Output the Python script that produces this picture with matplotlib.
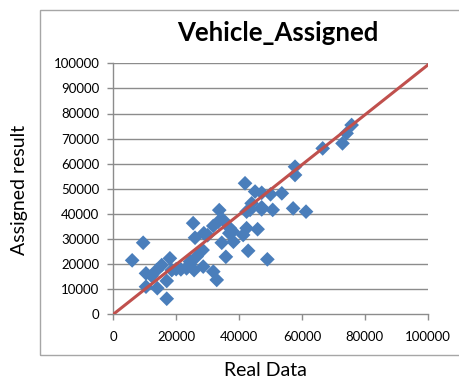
"""Scatter of assigned vehicles against real data, with trend line."""

import numpy as np
import matplotlib.pyplot as plt
from matplotlib.patches import Rectangle

plt.rcParams['font.family'] = ['Lato', 'DejaVu Sans']

# Real data (x) and assigned result (y)
real_data = [6000, 9500, 10400, 10400, 12200, 13800, 14000, 15400, 17000, 17000,
             18000, 18600, 20000, 21500, 23300, 24400, 24400, 25400, 25700, 26000,
             26500, 28400, 28600, 28800, 30000, 31800, 31800, 32900, 33400, 33700,
             34500, 35000, 35800, 36900, 37100, 38200, 38000, 41300, 41900, 42400,
             42400, 42900, 43500, 44000, 45100, 45900, 47200, 47200, 47200, 49000,
             50000, 50700, 53600, 57200, 57800, 57800, 61300, 66600, 72900, 74200,
             75800]
assigned = [21500, 28500, 16300, 11000, 15300, 17600, 10400, 19600, 13300, 6200,
            22300, 17600, 18000, 17900, 18300, 20000, 21000, 36300, 17600, 30500,
            23000, 25600, 19000, 32300, 31500, 17000, 35200, 13700, 36900, 41500,
            28500, 37500, 22900, 32300, 34300, 28900, 33000, 31600, 52200, 40900,
            34300, 25300, 41600, 44200, 48900, 33900, 48400, 42600, 41800, 21900,
            47800, 41600, 48200, 42200, 58800, 55500, 40900, 66100, 68100, 72100,
            75400]

# Trend line coefficients
slope = 0.993
intercept = 0

ticks = np.arange(0, 100001, 20000)
yticks = np.arange(0, 100001, 10000)

fig = plt.figure(figsize=(4.6, 3.82), dpi=100)

# chart border
fig.patches.append(Rectangle((40 / 460, 27 / 382), 1.0, 345 / 382,
                             transform=fig.transFigure, fill=False,
                             edgecolor='#a6a6a6', linewidth=1.0))

ax = fig.add_axes([113.3 / 460, 67.7 / 382, 314.4 / 460, 251 / 382])
ax.set_xlim(0, 100000)
ax.set_ylim(0, 100000)

for v in yticks[1:]:
    ax.axhline(v, color='#8c8c8c', linewidth=1.0, zorder=0)

ax.scatter(real_data, assigned, marker='D', s=56, color='#4a7ebb',
           edgecolors='none', zorder=3)

xs = np.array([0, 100000])
ax.plot(xs, slope * xs + intercept, color='#c0504d', linewidth=2.2, zorder=4)

ax.set_xticks(ticks)
ax.set_xticklabels([str(t) for t in ticks])
ax.set_yticks(yticks)
ax.set_yticklabels([str(t) for t in yticks])
ax.tick_params(axis='both', direction='out', length=4, width=1,
               color='#8c8c8c', labelsize=9.5, labelcolor='#000000')
ax.tick_params(axis='x', pad=8)
ax.tick_params(axis='y', pad=6)

for side in ['top', 'right']:
    ax.spines[side].set_visible(False)
for side in ['left', 'bottom']:
    ax.spines[side].set_color('#8c8c8c')
    ax.spines[side].set_linewidth(1.0)

fig.text(278 / 460, 1 - 33 / 382, 'Vehicle_Assigned', ha='center', va='center',
         fontsize=18.5, fontweight='bold')
fig.text(265 / 460, 1 - 371 / 382, 'Real Data', ha='center', va='center',
         fontsize=14)
fig.text(20 / 460, 1 - 190 / 382, 'Assigned result', ha='center', va='center',
         rotation=90, fontsize=14)

fig.savefig('out.png', dpi=100)
